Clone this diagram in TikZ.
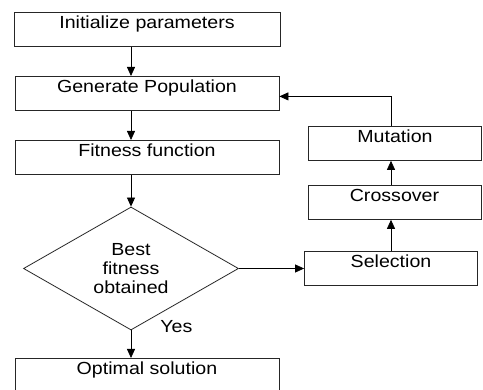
\documentclass[tikz,border=0pt]{standalone}
\usepackage{fontspec}
\setmainfont{Liberation Sans}[FakeStretch=1.12]
\usetikzlibrary{arrows.meta, positioning, shapes.geometric}

\begin{document}
\begin{tikzpicture}[x=1pt,y=-1pt,>={Triangle[width=8pt,length=9pt]},line width=0.8pt,font=\fontsize{17.5}{19}\selectfont]
    \tikzstyle{block}=[rectangle, draw=black!85, anchor=north, inner sep=0pt, text height=16pt, text depth=18pt]
    \tikzstyle{decision}=[diamond, draw=black!85, inner sep=0pt, aspect=1.75, minimum width=215pt, minimum height=123pt, align=center]
    \tikzstyle{flow}=[->, draw=black]

    \clip (0,0) rectangle (483,390);

    % Draw the main column
    \node[block, minimum width=266pt] (init) at (147,12) {Initialize parameters};
    \foreach \name / \y / \txt in {gen/76/Generate Population, fit/140/Fitness function}
        \node[block, minimum width=264pt] (\name) at (147,\y) {\txt};
    \node[decision] (dia) at (131,268.5) {Best\\fitness\\obtained};
    \node[block, minimum width=264pt, text depth=42pt] (opt) at (147,358) {Optimal solution};
    \node[anchor=base west, inner sep=0pt] (yes) at (160,333) {Yes};

    % Draw the loop column
    \foreach \name / \x / \y / \txt in {mut/395/126/Mutation, cro/394.5/185/Crossover, sel/391/251.5/Selection}
        \node[block, minimum width=173pt] (\name) at (\x,\y) {\txt};

    % Connect the main column
    \foreach \source / \dest in {init/gen, gen/fit}
        \draw[flow] (\source.south -| dia.north) -- (\dest.north -| dia.north);
    \draw[flow] (fit.south -| dia.north) -- (dia.north);
    \draw[flow] (dia.south) -- (opt.north -| dia.south);

    % Connect the loop back to the population
    \draw[flow] (dia.east) -- (dia.east -| sel.west);
    \draw[flow] (sel.north) -- (sel.north |- cro.south);
    \draw[flow] (sel.north |- cro.north) -- (sel.north |- mut.south);
    \draw[flow] (sel.north |- mut.north) |- ([yshift=-3pt]gen.east);

\end{tikzpicture}
\end{document}
